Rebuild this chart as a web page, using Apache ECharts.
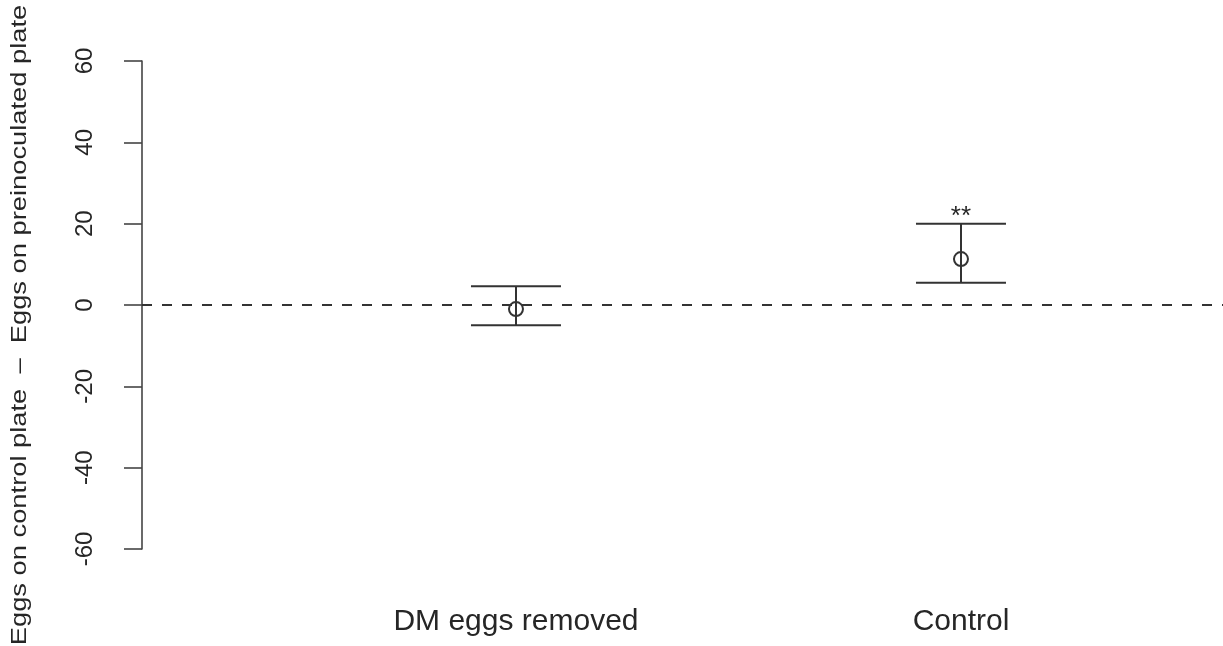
<!DOCTYPE html>
<html>
<head>
<meta charset="utf-8">
<script src="https://cdn.jsdelivr.net/npm/echarts@6/dist/echarts.min.js"></script>
<style>
  html, body { margin: 0; padding: 0; background: #fff; }
  #chart { width: 1223px; height: 646px; }
</style>
</head>
<body>
<div id="chart"></div>
<script>
const categories = ['DM eggs removed', 'Control'];
const xPositions = [1, 2];
const means = [-1, 11.3];
const lowerCI = [-5, 5.5];
const upperCI = [4.6, 20];
const significance = ['', '**'];
const yTickValues = [-60, -40, -20, 0, 20, 40, 60];
const yTitle = 'Eggs on control plate  \u2013  Eggs on preinoculated plate';

const FONT = '"Liberation Sans", Arial, Helvetica, sans-serif';
const INK = '#262626';

const seriesData = categories.map((c, i) => [xPositions[i], means[i], lowerCI[i], upperCI[i], significance[i]]);

const chart = echarts.init(document.getElementById('chart'), null, { renderer: 'canvas' });

chart.setOption({
  animation: false,
  backgroundColor: '#ffffff',
  grid: { left: 142, right: 0, top: 61, bottom: 97, containLabel: false },
  xAxis: {
    type: 'value',
    min: 0.1596,
    max: 2.5888,
    axisLine: { show: false },
    axisTick: { show: false },
    splitLine: { show: false },
    axisLabel: {
      customValues: xPositions,
      formatter: v => categories[xPositions.indexOf(v)] || '',
      fontFamily: FONT,
      fontSize: 30,
      color: INK,
      margin: 58
    }
  },
  yAxis: {
    type: 'value',
    min: yTickValues[0],
    max: yTickValues[yTickValues.length - 1],
    interval: 20,
    axisLine: { show: true, lineStyle: { color: '#444', width: 1.6 } },
    axisTick: { show: true, length: 18, lineStyle: { color: '#444', width: 1.6 } },
    splitLine: { show: false },
    axisLabel: {
      rotate: 90,
      fontFamily: FONT,
      fontSize: 24,
      color: INK,
      margin: 45
    }
  },
  graphic: [{
    type: 'text',
    x: 20,
    y: 325,
    rotation: Math.PI / 2,
    scaleX: 1.3,
    scaleY: 1.05,
    style: {
      text: yTitle,
      font: '21px ' + FONT,
      fill: INK,
      align: 'center',
      verticalAlign: 'middle'
    }
  }],
  series: [
    {
      type: 'line',
      data: [],
      silent: true,
      markLine: {
        silent: true,
        symbol: 'none',
        label: { show: false },
        lineStyle: { type: [10, 10], color: '#333', width: 2 },
        data: [{ yAxis: 0 }]
      }
    },
    {
      type: 'custom',
      data: seriesData,
      renderItem: function (params, api) {
        const x = api.value(0);
        const pMean = api.coord([x, api.value(1)]);
        const pLow = api.coord([x, api.value(2)]);
        const pHigh = api.coord([x, api.value(3)]);
        const sig = significance[params.dataIndex];
        const half = 45;
        const ls = { stroke: '#333', lineWidth: 2 };
        const children = [
          { type: 'line', shape: { x1: pLow[0], y1: pLow[1], x2: pHigh[0], y2: pHigh[1] }, style: ls },
          { type: 'line', shape: { x1: pHigh[0] - half, y1: pHigh[1], x2: pHigh[0] + half, y2: pHigh[1] }, style: ls },
          { type: 'line', shape: { x1: pLow[0] - half, y1: pLow[1], x2: pLow[0] + half, y2: pLow[1] }, style: ls },
          { type: 'circle', shape: { cx: pMean[0], cy: pMean[1], r: 7 }, style: { fill: 'none', stroke: '#333', lineWidth: 2 } }
        ];
        if (sig) {
          children.push({
            type: 'text',
            x: pHigh[0],
            y: pHigh[1] - 7,
            style: { text: sig, font: '26px ' + FONT, fill: INK, align: 'center', verticalAlign: 'middle' }
          });
        }
        return { type: 'group', children: children };
      }
    }
  ]
});
</script>
</body>
</html>
